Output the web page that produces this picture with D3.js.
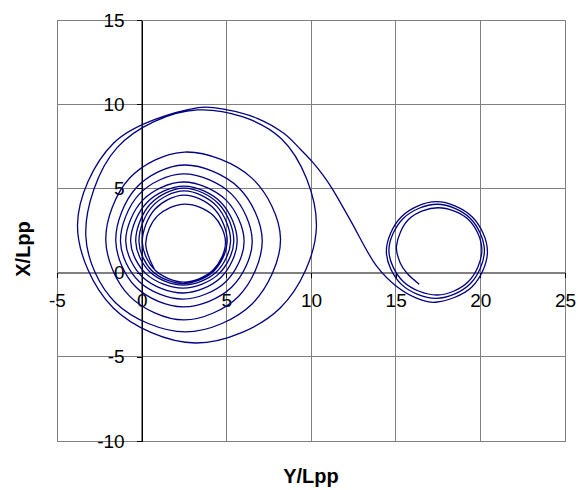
<!DOCTYPE html>
<meta charset="utf-8">
<style>

body {
  margin: 0;
  background: #fff;
}

text {
  font-family: "Liberation Sans", Arial, sans-serif;
}

.grid line,
.frame {
  stroke: #808080;
  stroke-width: 1;
  fill: none;
  shape-rendering: crispEdges;
}

.axis text {
  font-size: 19px;
  fill: #000;
}

.axis line,
.axis--y path {
  stroke: #000;
  shape-rendering: crispEdges;
}

.axis--x path {
  stroke: #808080;
  shape-rendering: crispEdges;
}

.title {
  font-size: 20px;
  font-weight: bold;
  text-anchor: middle;
}

.track {
  fill: none;
  stroke: #000080;
  stroke-width: 1.3;
}

</style>
<svg width="578" height="490"></svg>
<script src="https://d3js.org/d3.v7.min.js"></script>
<script>

var xTicks = [-5, 0, 5, 10, 15, 20, 25],
    yTicks = [-10, -5, 0, 5, 10, 15];

// track: Y/Lpp across, X/Lpp up
var yLpp = [
  0.75,
  0.24, 0.93, 2.55, 4.23, 4.95, 4.22, 2.50, 0.78,
  0.04, 0.78, 2.50, 4.29, 5.05, 4.27, 2.45, 0.62,
  -0.16, 0.64, 2.50, 4.43, 5.25, 4.41, 2.45, 0.49,
  -0.35, 0.51, 2.50, 4.56, 5.44, 4.54, 2.45, 0.28,
  -0.65, 0.30, 2.50, 4.70, 5.64, 4.68, 2.45, 0.08,
  -0.94, 0.08, 2.45, 4.97, 6.05, 4.97, 2.45, -0.14,
  -1.25, -0.14, 2.45, 5.31, 6.53, 5.31, 2.45, -0.34,
  -1.53, -0.32, 2.50, 5.73, 7.12, 5.73, 2.50, -0.73,
  -2.12, -0.72, 2.55, 6.51, 8.20, 6.52, 2.60, -1.53,
  -3.30, -1.45, 3.30, 8.25, 10.32, 8.18, 3.20, -1.69,
  -3.79, -1.65, 3.35,
  5.05, 6.82, 8.39, 9.40, 10.07, 10.70, 11.24, 12.32, 13.90, 15.08,
  16.20, 17.35, 19.50, 20.42, 19.51, 17.40, 15.34, 14.45,
  15.34, 17.40, 19.39, 20.24, 19.40, 17.45, 15.46, 14.60,
  15.46, 17.45, 19.30, 20.09, 19.31, 17.50, 15.79, 15.05,
  15.27, 15.67, 16.39
];

var xLpp = [
  0.20,
  1.75, 3.37, 4.07, 3.39, 1.80, 0.15, -0.56, 0.15,
  1.80, 3.76, 4.60, 3.78, 1.85, 0.10, -0.65, 0.10,
  1.85, 3.95, 4.85, 3.95, 1.85, 0.04, -0.74, 0.04,
  1.85, 4.07, 5.02, 4.07, 1.85, -0.09, -0.92, -0.09,
  1.85, 4.15, 5.14, 4.15, 1.85, -0.29, -1.21, -0.29,
  1.85, 4.32, 5.38, 4.32, 1.85, -0.54, -1.57, -0.54,
  1.85, 4.66, 5.86, 4.66, 1.85, -0.87, -2.04, -0.86,
  1.90, 5.04, 6.39, 5.04, 1.90, -1.40, -2.81, -1.38,
  1.95, 5.60, 7.16, 5.61, 2.00, -1.86, -3.52, -1.80,
  2.20, 7.42, 9.66, 7.95, 2.75, -2.10, -4.18, -2.09,
  2.80, 7.70, 9.80,
  9.66, 9.16, 8.27, 7.30, 6.59, 5.80, 5.00, 3.12, 0.35, -0.84,
  -1.50, -1.76, -0.86, 1.25, 3.32, 4.21, 3.32, 1.25,
  -0.70, -1.53, -0.68, 1.30, 3.23, 4.06, 3.23, 1.30,
  -0.54, -1.33, -0.53, 1.35, 3.14, 3.85, 3.18, 1.60,
  0.57, -0.04, -0.69
];

var svg = d3.select("svg");

var x = d3.scaleLinear().domain([-5, 25]).range([57, 565]),
    y = d3.scaleLinear().domain([-10, 15]).range([441, 20]);

var grid = svg.append("g").attr("class", "grid");

grid.selectAll(".v")
    .data(xTicks)
  .enter().append("line")
    .attr("x1", function(d) { return x(d); })
    .attr("x2", function(d) { return x(d); })
    .attr("y1", y(-10))
    .attr("y2", y(15));

grid.selectAll(".h")
    .data(yTicks)
  .enter().append("line")
    .attr("x1", x(-5))
    .attr("x2", x(25))
    .attr("y1", function(d) { return y(d); })
    .attr("y2", function(d) { return y(d); });

svg.append("rect")
    .attr("class", "frame")
    .attr("x", x(-5))
    .attr("y", y(15))
    .attr("width", x(25) - x(-5))
    .attr("height", y(-10) - y(15));

// plain hyphen for negatives, as in the original
var plain = function(d) { return String(d); };

svg.append("g")
    .attr("class", "axis axis--x")
    .attr("transform", "translate(0," + y(0) + ")")
    .call(d3.axisBottom(x).tickValues(xTicks).tickFormat(plain)
        .tickSize(5).tickSizeOuter(0).tickPadding(16));

svg.append("g")
    .attr("class", "axis axis--y")
    .attr("transform", "translate(" + x(0) + ",0)")
    .call(d3.axisLeft(y).tickValues(yTicks).tickFormat(plain)
        .tickSize(5).tickSizeOuter(0).tickPadding(12));

svg.selectAll(".axis").attr("font-size", null).attr("font-family", null);

var line = d3.line()
    .x(function(d) { return x(yLpp[d]); })
    .y(function(d) { return y(xLpp[d]); })
    .curve(d3.curveCatmullRom.alpha(0.5));

svg.append("path")
    .attr("class", "track")
    .attr("d", line(d3.range(yLpp.length)));

svg.append("text")
    .attr("class", "title")
    .attr("x", (x(-5) + x(25)) / 2)
    .attr("y", 483)
    .text("Y/Lpp");

svg.append("text")
    .attr("class", "title")
    .attr("transform", "translate(30,249) rotate(-90)")
    .text("X/Lpp");

</script>
